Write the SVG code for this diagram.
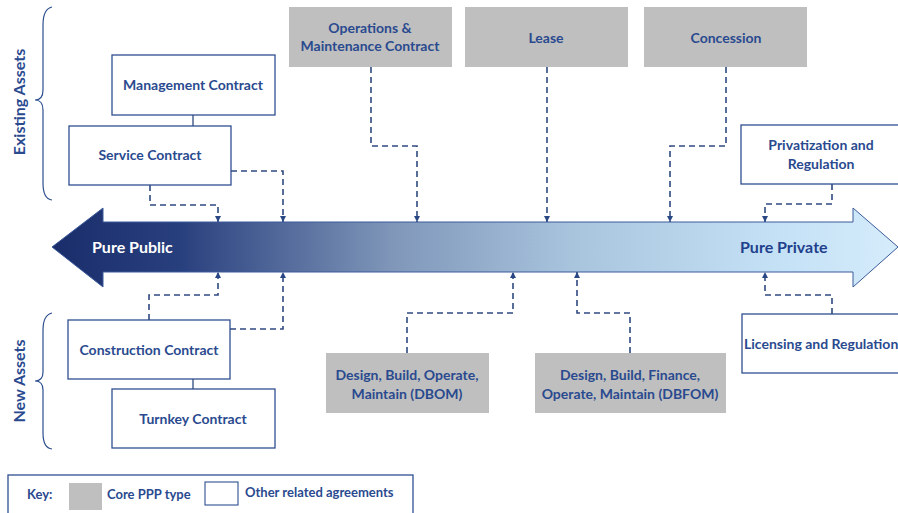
<svg xmlns="http://www.w3.org/2000/svg" width="898" height="513" viewBox="0 0 898 513">
<defs>
<linearGradient id="grad" x1="52" y1="0" x2="898" y2="0" gradientUnits="userSpaceOnUse">
<stop offset="0" stop-color="#1a2d6b"/>
<stop offset="0.15" stop-color="#283f7e"/>
<stop offset="0.4" stop-color="#7f96b9"/>
<stop offset="0.62" stop-color="#a9c5de"/>
<stop offset="0.85" stop-color="#c3e0f5"/>
<stop offset="1" stop-color="#d5ecfb"/>
</linearGradient>
<marker id="ah" viewBox="0 0 10 10" refX="10" refY="5" markerWidth="6" markerHeight="6" orient="auto" markerUnits="userSpaceOnUse">
<path d="M0,0 L10,5 L0,10 Z" fill="#2a4785"/>
</marker>
</defs>
<style>
.t{font-family:Lato,"Open Sans","Liberation Sans",sans-serif;font-weight:bold;font-size:14px;fill:#2a4a8f;text-anchor:middle}
.k{font-family:Lato,"Open Sans","Liberation Sans",sans-serif;font-weight:bold;font-size:13px;fill:#2a4a8f}
.box{fill:#ffffff;stroke:#2e4f8f;stroke-width:1.3}
.core{fill:#bfbfbf;stroke:none}
.dash{fill:none;stroke:#2f4a80;stroke-width:1.6;stroke-dasharray:6,4}
.solid{fill:none;stroke:#2f4a80;stroke-width:1.3}
.brace{fill:none;stroke:#2e4f8f;stroke-width:1.2}
.side{font-family:Lato,"Open Sans","Liberation Sans",sans-serif;font-weight:bold;font-size:16px;fill:#2a4a8f;text-anchor:middle}
.arrowtxt{font-family:Lato,"Open Sans","Liberation Sans",sans-serif;font-weight:bold;font-size:16px}
</style>
<rect width="898" height="513" fill="#ffffff"/>

<g id="spectrum-arrow">
<polygon points="52,247 103,208 103,222 853,222 853,208 898,247 853,287 853,272 103,272 103,287" fill="url(#grad)" stroke="#3a5a9a" stroke-width="1"/>
<text class="arrowtxt" x="92" y="253" fill="#ffffff">Pure Public</text>
<text class="arrowtxt" x="740" y="253" fill="#1f3f8c">Pure Private</text>
</g>

<g id="existing-assets">
<path class="brace" d="M52,7 Q43,9 43,25 L43,90 Q43,100 35,100 Q43,100 43,110 L43,183 Q43,199 52,200"/>
<text class="side" transform="translate(25,102) rotate(-90)">Existing Assets</text>
</g>
<g id="new-assets">
<path class="brace" d="M52,313 Q43,315 43,330 L43,372 Q43,381 35,381 Q43,381 43,390 L43,433 Q43,448 52,449"/>
<text class="side" transform="translate(25,381) rotate(-90)">New Assets</text>
</g>

<g id="management-contract">
<rect class="box" x="112" y="55" width="163" height="60"/>
<text class="t" x="193" y="90">Management Contract</text>
</g>
<g id="service-contract">
<rect class="box" x="69" y="126" width="162" height="59"/>
<text class="t" x="150" y="160">Service Contract</text>
</g>
<g id="om-contract">
<rect class="core" x="289" y="7" width="163" height="60"/>
<text class="t" x="370" y="33">Operations &amp;</text>
<text class="t" x="370" y="51">Maintenance Contract</text>
</g>
<g id="lease">
<rect class="core" x="465" y="7" width="163" height="60"/>
<text class="t" x="546" y="43">Lease</text>
</g>
<g id="concession">
<rect class="core" x="644" y="7" width="163" height="60"/>
<text class="t" x="726" y="43">Concession</text>
</g>
<g id="privatization">
<rect class="box" x="741" y="125" width="160" height="59"/>
<text class="t" x="821" y="150">Privatization and</text>
<text class="t" x="821" y="169">Regulation</text>
</g>
<g id="construction-contract">
<rect class="box" x="68" y="320" width="162" height="59"/>
<text class="t" x="149" y="355">Construction Contract</text>
</g>
<g id="turnkey-contract">
<rect class="box" x="112" y="389" width="163" height="59"/>
<text class="t" x="193" y="424">Turnkey Contract</text>
</g>
<g id="dbom">
<rect class="core" x="326" y="353" width="163" height="60"/>
<text class="t" x="407" y="380">Design, Build, Operate,</text>
<text class="t" x="407" y="399">Maintain (DBOM)</text>
</g>
<g id="dbfom">
<rect class="core" x="535" y="353" width="191" height="60"/>
<text class="t" x="630" y="380">Design, Build, Finance,</text>
<text class="t" x="630" y="399">Operate, Maintain (DBFOM)</text>
</g>
<g id="licensing">
<rect class="box" x="742" y="314" width="160" height="59"/>
<text class="t" x="744" y="349" style="text-anchor:start">Licensing and Regulation</text>
</g>

<g id="connectors">
<line class="solid" x1="193" y1="115" x2="193" y2="126"/>
<line class="solid" x1="193" y1="379" x2="193" y2="389"/>
<polyline class="dash" points="150,185 150,205 218,205 218,222" marker-end="url(#ah)"/>
<polyline class="dash" points="231,171 283,171 283,222" marker-end="url(#ah)"/>
<polyline class="dash" points="371,67 371,146 417,146 417,222" marker-end="url(#ah)"/>
<polyline class="dash" points="547,67 547,222" marker-end="url(#ah)"/>
<polyline class="dash" points="726,67 726,146 670,146 670,222" marker-end="url(#ah)"/>
<polyline class="dash" points="832,184 832,204 765,204 765,222" marker-end="url(#ah)"/>
<polyline class="dash" points="149,320 149,295 218,295 218,272" marker-end="url(#ah)"/>
<polyline class="dash" points="230,329 283,329 283,272" marker-end="url(#ah)"/>
<polyline class="dash" points="407,353 407,313 513,313 513,272" marker-end="url(#ah)"/>
<polyline class="dash" points="630,353 630,313 577,313 577,272" marker-end="url(#ah)"/>
<polyline class="dash" points="832,314 832,295 765,295 765,272" marker-end="url(#ah)"/>
</g>

<g id="key">
<rect x="8" y="475" width="405" height="45" fill="#ffffff" stroke="#2e4f8f" stroke-width="1.3"/>
<text class="k" x="27" y="499">Key:</text>
<rect x="69" y="483" width="33" height="27" fill="#bfbfbf"/>
<text class="k" x="107" y="499">Core PPP type</text>
<rect x="205" y="482" width="33" height="23" fill="#ffffff" stroke="#2e4f8f" stroke-width="1.1"/>
<text class="k" x="245" y="497">Other related agreements</text>
</g>
</svg>
